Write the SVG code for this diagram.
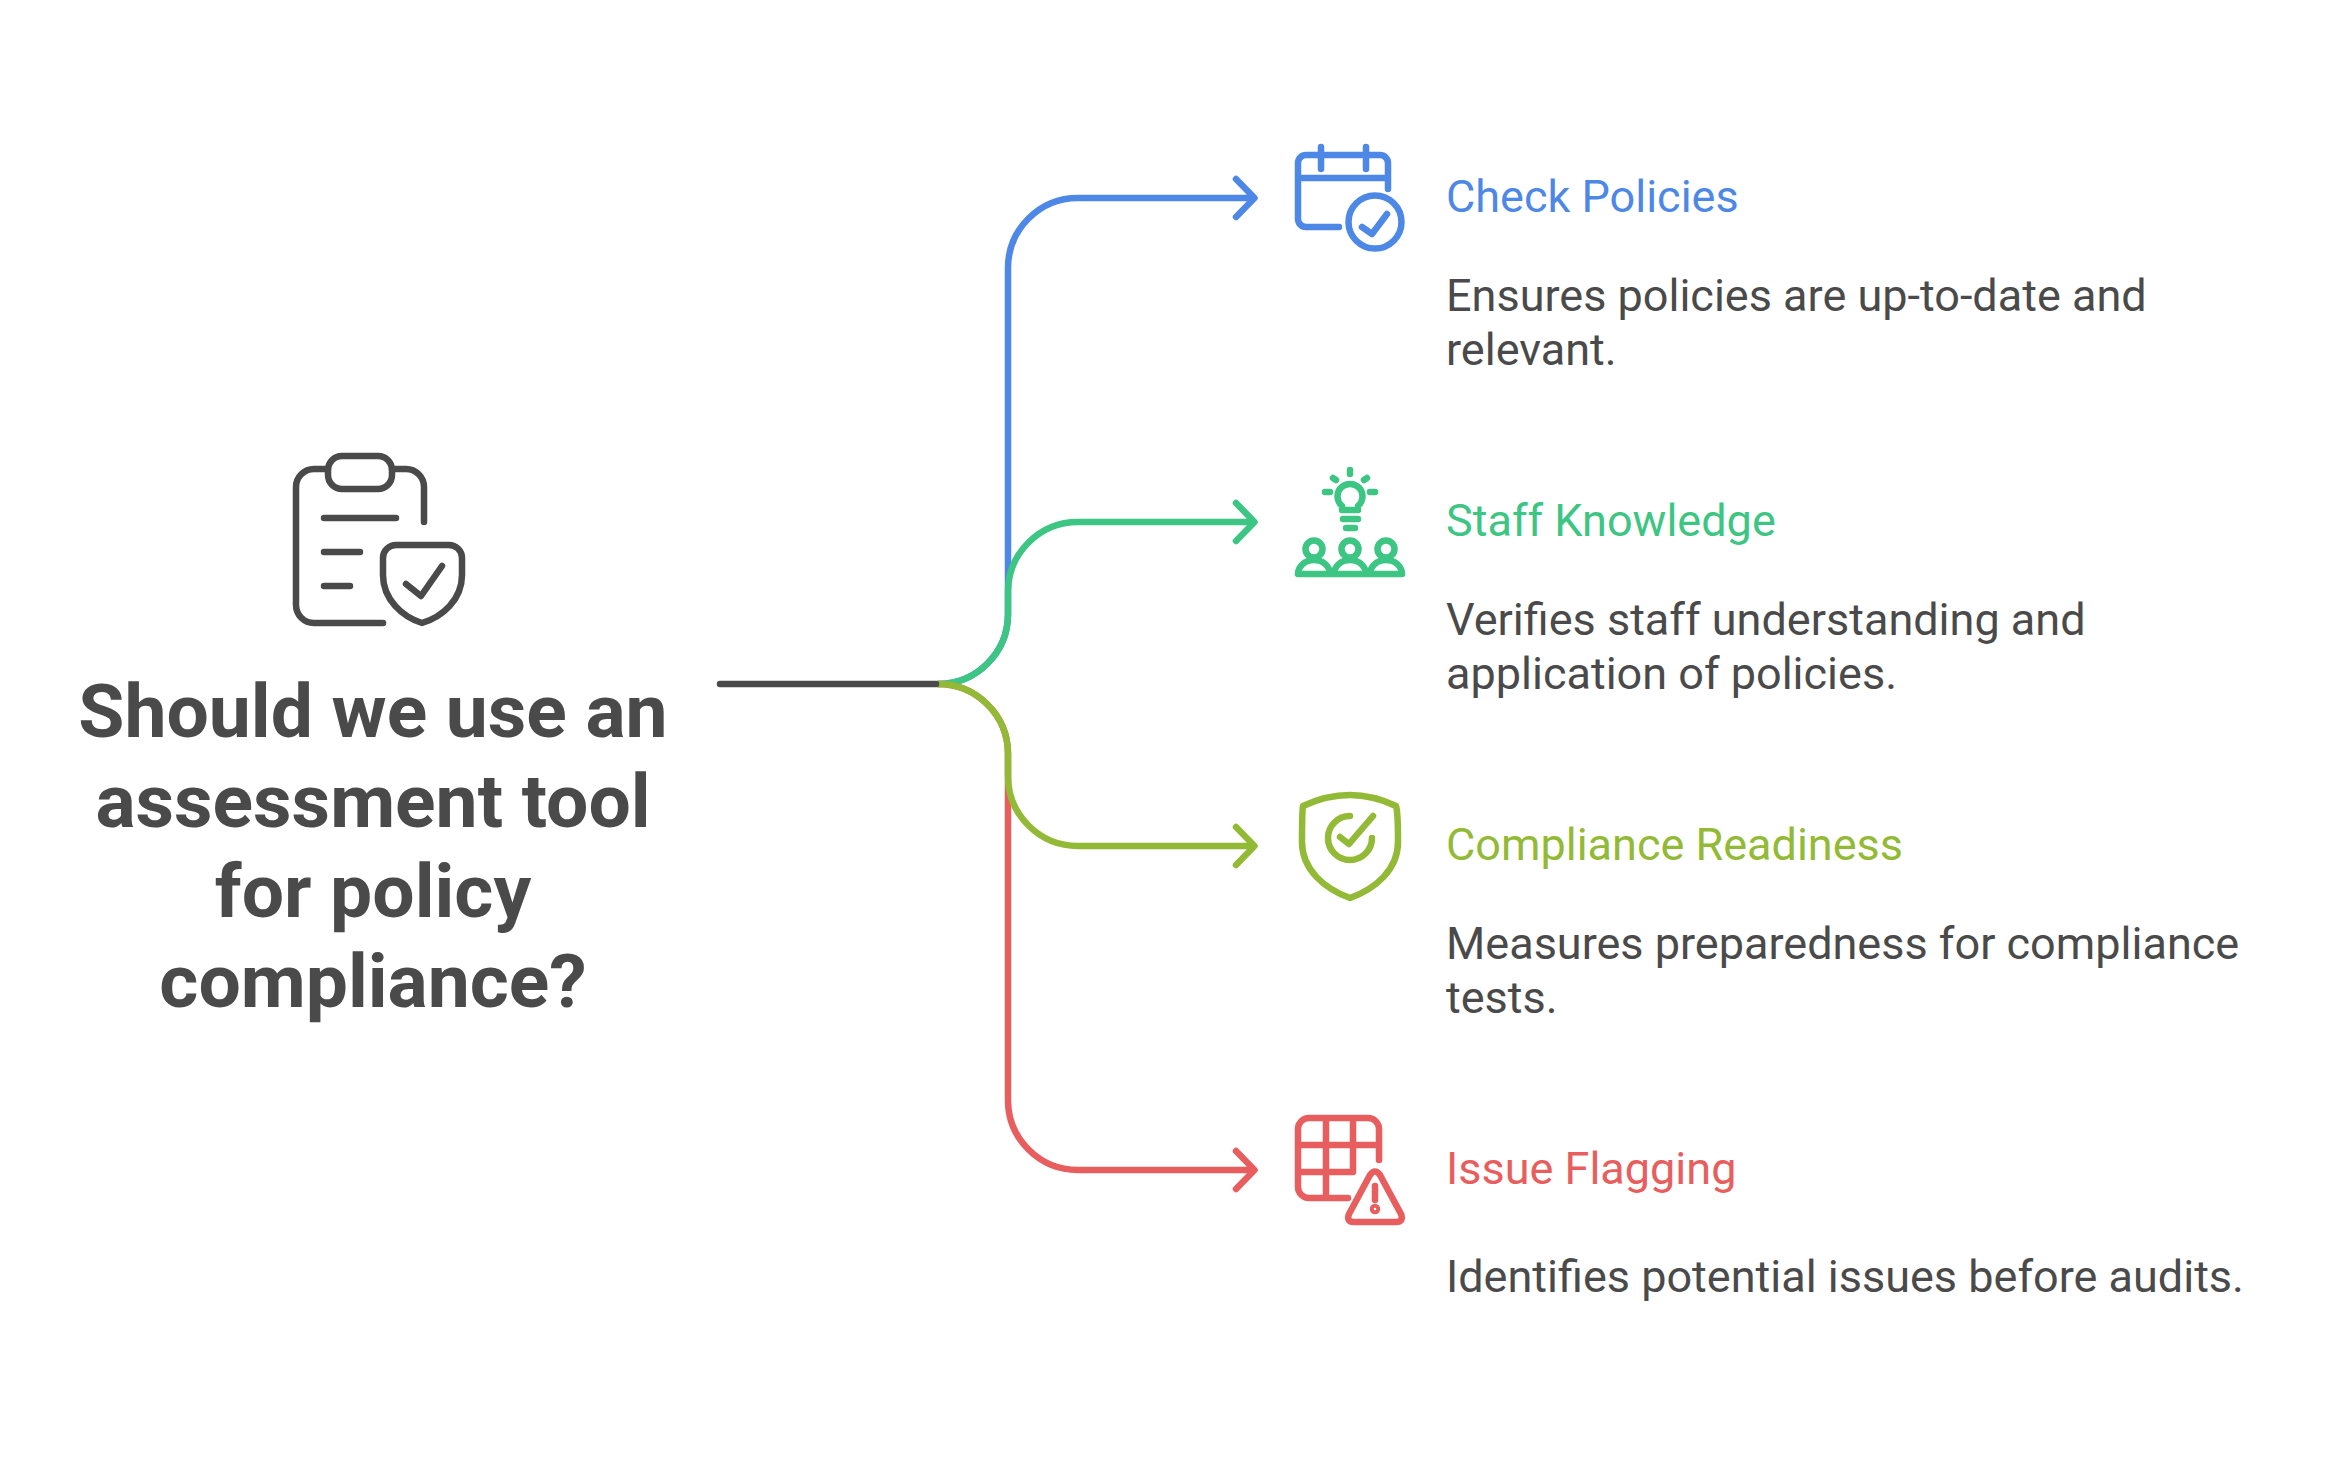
<svg xmlns="http://www.w3.org/2000/svg" width="2340" height="1458" viewBox="0 0 2340 1458">
<style>
.i{fill:none;stroke-width:6.500;stroke-linecap:round;stroke-linejoin:round}
.c{fill:none;stroke-width:6.500;stroke-linecap:round;stroke-linejoin:round}
.t{font-family:Roboto,"Liberation Sans",sans-serif}
.h{font-size:45px}
.d{font-size:45px;fill:#4A4A4A}
.q{font-size:75px;font-weight:700;fill:#4A4A4A;text-anchor:middle}
.bl{stroke:#4E88E7}.gr{stroke:#3CC583}.ol{stroke:#93BA36}.re{stroke:#E85E5E}.dk{stroke:#4A4A4A}
</style>
<rect width="2340" height="1458" fill="#fff"/>
<g id="connectors">
<path class="c bl" d="M938 684A70 70 0 0 0 1008 614V268A70 70 0 0 1 1078 198H1254M1236 179L1254.500 198L1236 217"/>
<path class="c gr" d="M938 684A70 70 0 0 0 1008 614V592A70 70 0 0 1 1078 522H1254M1236 503L1254.500 522L1236 541"/>
<path class="c re" d="M938 684A70 70 0 0 1 1008 754V1100A70 70 0 0 0 1078 1170H1254M1236 1151L1254.500 1170L1236 1189"/>
<path class="c ol" d="M938 684A70 70 0 0 1 1008 754V776A70 70 0 0 0 1078 846H1254M1236 827L1254.500 846L1236 865"/>
<path class="c dk" d="M720 684H936"/>
</g>
<g id="node-question">
<g class="i dk">
<path d="M383 623H314A18 18 0 0 1 296 605V487A18 18 0 0 1 314 469H328M392 469H406A18 18 0 0 1 424 487V522"/>
<rect x="328" y="456" width="64" height="33" rx="14"/>
<path d="M324 518H396M324 552H360M324 586H350"/>
<path d="M383 558A13 13 0 0 1 396 545H449A13 13 0 0 1 462 558V575C462 600 442 617 422 623C403 617 383 600 383 575Z"/>
<path d="M406 584L421 596L442 566"/>
</g>
<text class="t q" x="373" y="736.500">Should we use an</text>
<text class="t q" x="373" y="826.500">assessment tool</text>
<text class="t q" x="373" y="916.500">for policy</text>
<text class="t q" x="373" y="1006.500">compliance?</text>
</g>
<g id="node-check-policies">
<g class="i bl">
<path d="M1339 227H1306A8 8 0 0 1 1298 219V163A8 8 0 0 1 1306 155H1380A8 8 0 0 1 1388 163V189M1298 178H1388M1321 147V169M1366 147V169"/>
<circle cx="1375" cy="222" r="26.500"/>
<path d="M1362 227L1372 234L1387 214"/>
</g>
<text class="t h" x="1446" y="212" fill="#4E88E7">Check Policies</text>
<text class="t d" x="1446" y="311">Ensures policies are up-to-date and</text>
<text class="t d" x="1446" y="365">relevant.</text>
</g>
<g id="node-staff-knowledge">
<g class="i gr">
<path d="M1342 510V506A12.500 12.500 0 1 1 1358 506V510ZM1343 519H1358M1346 528H1355M1350 470V474M1325 492H1330M1370 492H1375M1333 478L1336 480M1367 478L1364 480"/>
<circle cx="1314" cy="549" r="8.500"/><circle cx="1350" cy="549" r="8.500"/><circle cx="1386" cy="549" r="8.500"/>
<path d="M1298 574H1402M1298 574A16 14 0 0 1 1330 574M1334 574A16 14 0 0 1 1366 574M1370 574A16 14 0 0 1 1402 574"/>
</g>
<text class="t h" x="1446" y="536" fill="#3CC583">Staff Knowledge</text>
<text class="t d" x="1446" y="635">Verifies staff understanding and</text>
<text class="t d" x="1446" y="689">application of policies.</text>
</g>
<g id="node-compliance-readiness">
<g class="i ol">
<path d="M1303 806Q1350 784 1396 806C1398 812 1398 830 1398 842C1398 870 1375 889 1350 898C1325 889 1302 870 1302 842C1302 830 1302 812 1303 806Z"/>
<path d="M1350 816A22 22 0 1 0 1372 838M1340 837L1349 844L1373 816"/>
</g>
<text class="t h" x="1446" y="860" fill="#93BA36">Compliance Readiness</text>
<text class="t d" x="1446" y="959">Measures preparedness for compliance</text>
<text class="t d" x="1446" y="1013">tests.</text>
</g>
<g id="node-issue-flagging">
<g class="i re">
<path d="M1348 1198H1309A11 11 0 0 1 1298 1187V1129A11 11 0 0 1 1309 1118H1368A11 11 0 0 1 1379 1129V1160M1298 1145H1379M1298 1172H1353M1326 1118V1198M1353 1118V1172"/>
<path d="M1370 1175Q1375 1168 1380 1175L1401 1214Q1404 1222 1396 1222H1354Q1346 1222 1349 1214Z"/>
<path d="M1375 1186V1200"/>
<circle cx="1375" cy="1209" r="2"/>
</g>
<text class="t h" x="1446" y="1184" fill="#E85E5E">Issue Flagging</text>
<text class="t d" x="1446" y="1292">Identifies potential issues before audits.</text>
</g>
</svg>
